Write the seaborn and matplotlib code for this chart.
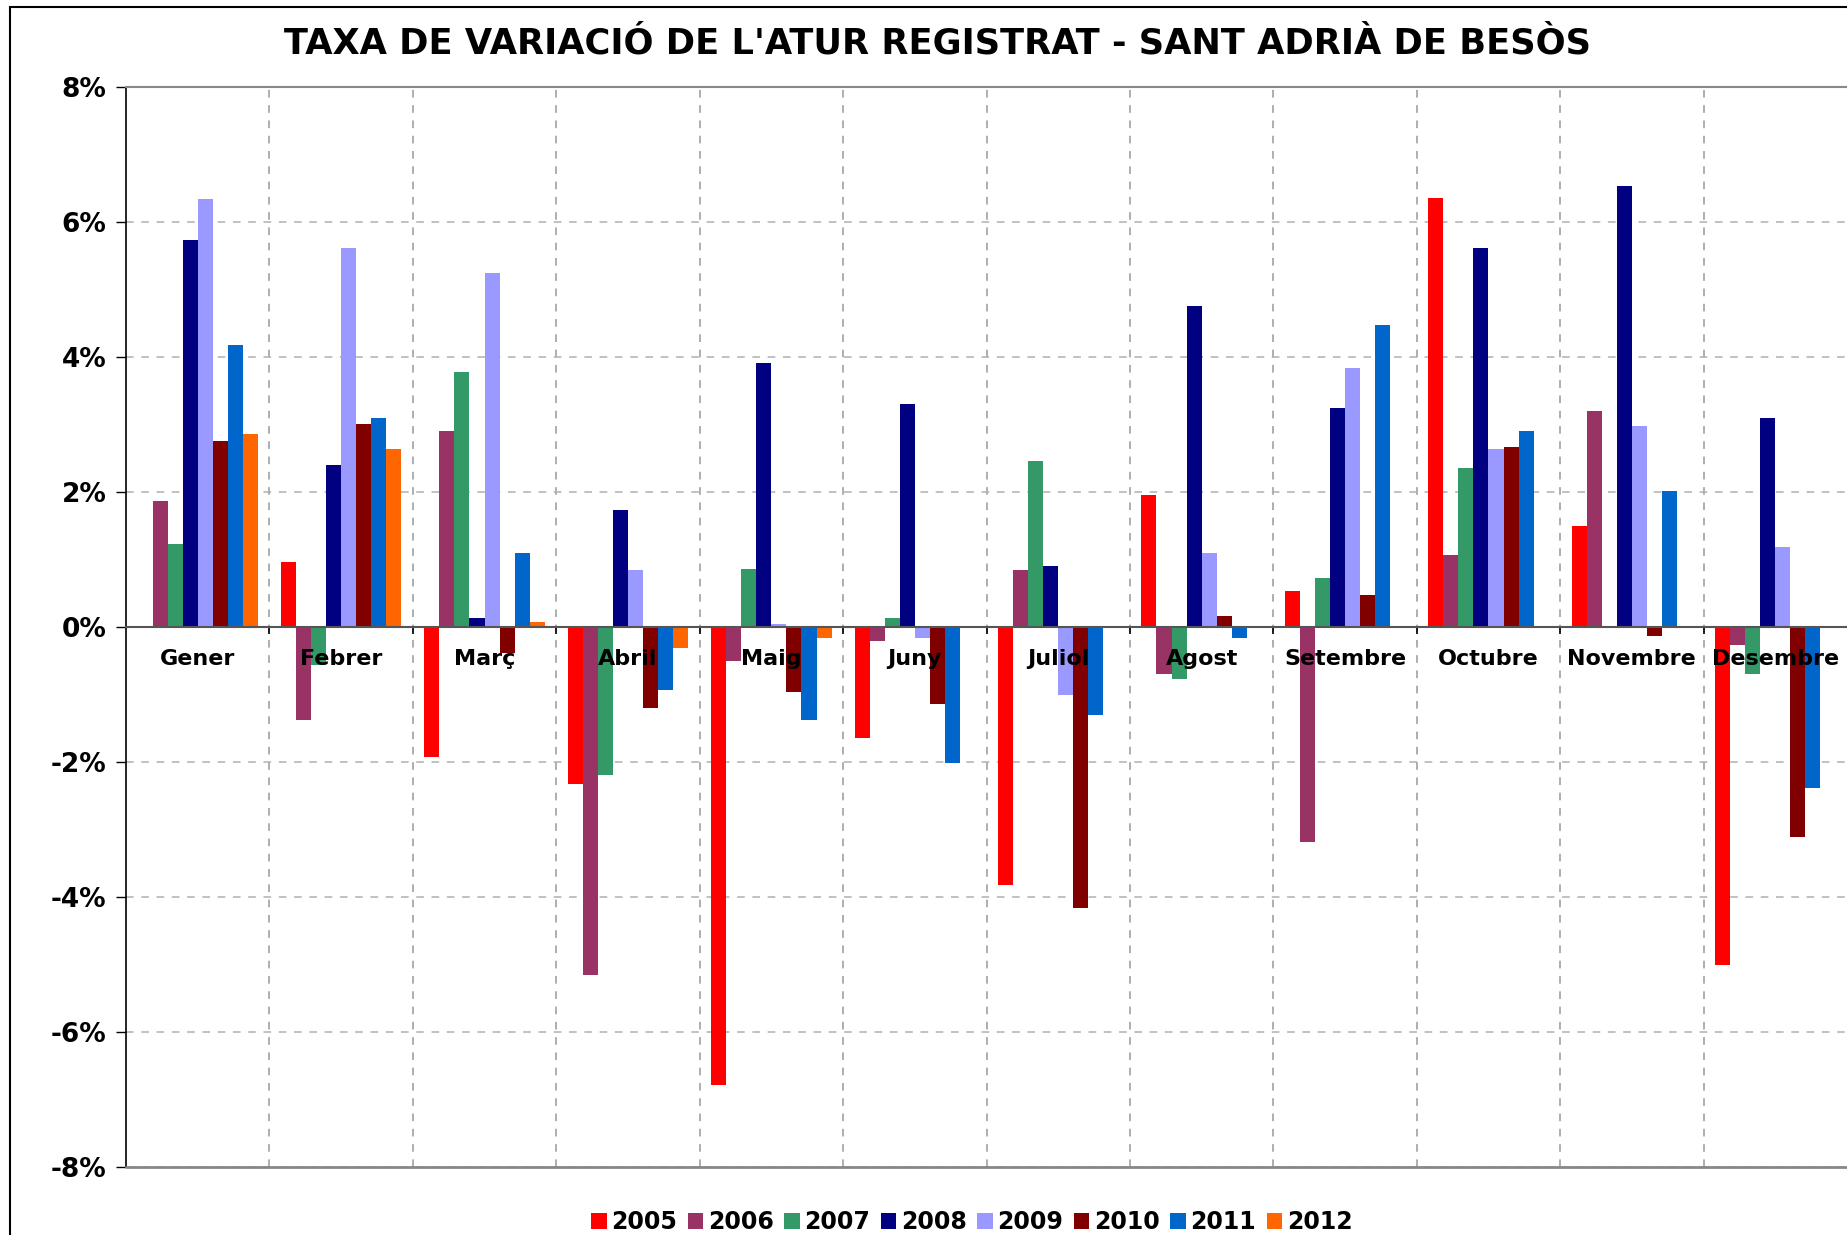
import numpy as np
import pandas as pd
import matplotlib
matplotlib.use("Agg")
import matplotlib.pyplot as plt
import seaborn as sns
from matplotlib.patches import Rectangle
from matplotlib.ticker import FixedLocator

nan = np.nan
months = ["Gener", "Febrer", "Març", "Abril", "Maig", "Juny", "Juliol",
          "Agost", "Setembre", "Octubre", "Novembre", "Desembre"]
years = ["2005", "2006", "2007", "2008", "2009", "2010", "2011", "2012"]

v2005 = [nan, 0.96, -1.92, -2.32, -6.78, -1.65, -3.82, 1.96, 0.53, 6.36, 1.50, -5.00]
v2006 = [1.87, -1.38, 2.90, -5.16, -0.51, -0.20, 0.84, -0.70, -3.19, 1.06, 3.20, -0.26]
v2007 = [1.23, -0.57, 3.78, -2.19, 0.86, 0.13, 2.46, -0.77, 0.73, 2.36, nan, -0.70]
v2008 = [5.73, 2.40, 0.13, 1.74, 3.91, 3.31, 0.90, 4.75, 3.25, 5.62, 6.53, 3.10]
v2009 = [6.34, 5.62, 5.25, 0.84, 0.05, -0.17, -1.01, 1.09, 3.84, 2.64, 2.98, 1.19]
v2010 = [2.75, 3.01, -0.39, -1.20, -0.96, -1.14, -4.16, 0.16, 0.48, 2.67, -0.14, -3.11]
v2011 = [4.18, 3.10, 1.10, -0.94, -1.38, -2.01, -1.31, -0.17, 4.48, 2.90, 2.01, -2.38]
v2012 = [2.86, 2.64, 0.08, -0.31, -0.17, nan, nan, nan, nan, nan, nan, nan]

colors = ["#FF0000", "#993366", "#339966", "#000080", "#9999FF", "#800000", "#0066CC", "#FF6600"]

y_ticks = [-8, -6, -4, -2, 0, 2, 4, 6, 8]
y_labels = ["-8%", "-6%", "-4%", "-2%", "0%", "2%", "4%", "6%", "8%"]

title = "TAXA DE VARIACIÓ DE L'ATUR REGISTRAT - SANT ADRIÀ DE BESÒS"

series = [v2005, v2006, v2007, v2008, v2009, v2010, v2011, v2012]
rows = []
for yr, vals in zip(years, series):
    for m, v in zip(months, vals):
        rows.append({"Mes": m, "Any": yr, "Valor": v})
df = pd.DataFrame(rows)

sns.set_style("white")
plt.rcParams["font.family"] = ["DejaVu Sans"]
plt.rcParams["font.weight"] = "bold"
plt.rcParams["text.color"] = "black"
plt.rcParams["xtick.color"] = "black"
plt.rcParams["ytick.color"] = "black"

W, H = 1847, 1235
fig = plt.figure(figsize=(W / 100, H / 100), dpi=100)
ax = fig.add_axes([126 / W, 1 - 1167 / H, 1 - 126 / W, (1167 - 87) / H])

sns.barplot(data=df, x="Mes", y="Valor", hue="Any", order=months, hue_order=years,
            palette=colors, width=0.84, gap=0, errorbar=None, saturation=1,
            linewidth=0, ax=ax, zorder=2)

handles, labels = ax.get_legend_handles_labels()
if ax.get_legend() is not None:
    ax.get_legend().remove()

ax.set_xlim(-0.5, len(months) - 0.5)
ax.set_ylim(-8, 8)
ax.set_xlabel("")
ax.set_ylabel("")

# y axis
ax.set_yticks(y_ticks)
ax.set_yticklabels(y_labels, fontsize=19, fontweight="bold", color="black")
ax.tick_params(axis="y", direction="out", length=7, width=1, color="black", pad=7, left=True)
ax.yaxis.grid(True, linestyle=(0, (5, 5)), color="#B0B0B0", linewidth=1.1)

# x axis: spine at zero
ax.spines["bottom"].set_position(("data", 0))
ax.spines["bottom"].set_color("#555555")
ax.spines["bottom"].set_linewidth(1.5)
ax.spines["bottom"].set_zorder(3)
ax.spines["left"].set_color("black")
ax.spines["left"].set_linewidth(1.2)
ax.spines["top"].set_color("#888888")
ax.spines["top"].set_linewidth(1.5)
ax.spines["right"].set_visible(False)
ax.axhline(-8, color="#888888", lw=2, clip_on=False, zorder=3)

ax.set_xticks(range(len(months)))
ax.set_xticklabels([])
ax.tick_params(axis="x", which="major", length=0)
ax.xaxis.set_minor_locator(FixedLocator([i + 0.5 for i in range(len(months) - 1)]))
ax.tick_params(axis="x", which="minor", direction="out", length=5, width=1.2, color="black", bottom=True)
ax.xaxis.grid(True, which="minor", linestyle=(0, (5, 5)), color="#999999", linewidth=1.1)
ax.xaxis.grid(False, which="major")
ax.set_axisbelow(True)

for i, m in enumerate(months):
    ax.text(i, -0.47, m, ha="center", va="center", fontsize=16, fontweight="bold",
            color="black", zorder=6)

fig.text(937 / W, 1 - 43 / H, title, ha="center", va="center", fontsize=25.4,
         fontweight="bold", color="black")

leg = fig.legend(handles, labels, loc="center", bbox_to_anchor=(825 * 1.178 / W, 1 - 1222 / H),
                 ncol=8, frameon=False, prop={"size": 17, "weight": "bold"},
                 handlelength=0.65, handleheight=0.65, handletextpad=0.2,
                 columnspacing=0.45, borderaxespad=0)
for t in leg.get_texts():
    t.set_color("black")

fig.patches.append(Rectangle((10 / W, -0.1), 1.2, 1 - 7 / H + 0.1, transform=fig.transFigure,
                             fill=False, edgecolor="black", linewidth=1.5, clip_on=False))

fig.savefig("out.png", dpi=100, facecolor="white")
